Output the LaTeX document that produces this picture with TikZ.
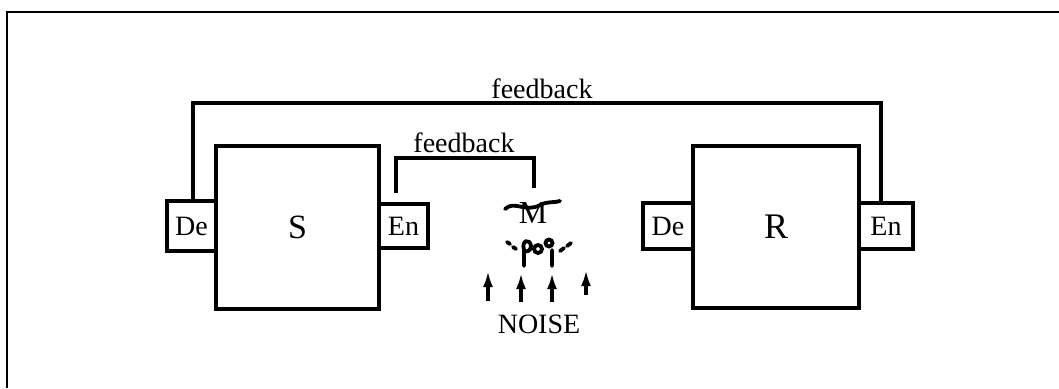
\documentclass[tikz,border=0pt]{standalone}
\usepackage{fontspec}
\setmainfont{Liberation Serif}
\usetikzlibrary{arrows.meta, positioning, calc}

\begin{document}
\begin{tikzpicture}[
  x=0.5pt, y=-0.5pt,
  party/.style={rectangle, draw, line width=1.6pt, fill=white, font=\fontsize{17}{20}\selectfont},
  coder/.style={rectangle, draw, line width=1.6pt, fill=white, inner sep=0pt, font=\fontsize{14}{16}\selectfont},
  link/.style={line width=1.6pt},
  lbl/.style={font=\fontsize{14}{16}\selectfont, inner sep=0pt},
  scrib/.style={line width=1.9pt, line cap=round},
  noisearrow/.style={-{Latex[length=8pt,width=5pt]}, line width=1.7pt}
]
\useasboundingbox (0,0) rectangle (1059,388);
\draw[line width=1.2pt] (7,388) -- (7,12) -- (1059,12);

% sender side
\node[party, minimum width=81.5pt, minimum height=81.5pt] (sbox) at (297.5,227.5) {S};
\node[coder, minimum width=24.5pt, minimum height=25pt] (sde) at (191.5,226) {De};
\node[coder, minimum width=24.5pt, minimum height=22pt] (sen) at (403.5,226) {En};

% receiver side
\node[party, minimum width=83pt, minimum height=81pt, font=\fontsize{18}{20}\selectfont] (rbox) at (776,227) {R};
\node[coder, minimum width=25pt, minimum height=23pt] (rde) at (668,226) {De};
\node[coder, minimum width=27pt, minimum height=23pt] (ren) at (886,226) {En};

% outer feedback loop
\coordinate (fbl) at (193,103);
\coordinate (fbr) at (881,103);
\draw[link] (sde.north -| fbl) -- (fbl) -- (fbr) -- (ren.north -| fbr);
\node[lbl] (fbtop) at (542,89) {feedback};

% inner feedback loop
\coordinate (fbs) at (396,193);
\coordinate (fbm) at (534,188);
\draw[link] (fbs) -- (fbs |- 0,158) -- (fbm |- 0,158) -- (fbm);
\node[lbl] (fbin) at (464,143) {feedback};

% message, disturbed
\node[lbl, font=\fontsize{16}{18}\selectfont] (msg) at (533,213) {M};
\draw[scrib] (505,209) .. controls (514,200) and (526,213) .. (540,205) .. controls (548,201) and (554,203) .. (560,201);
\draw[scrib] (507,242) -- (510,244) (513,247) -- (516,249);
\draw[scrib] (524,266) -- (524,250) .. controls (521,240) and (530,238) .. (531,246) .. controls (531,251) and (526,253) .. (524,250);
\draw[scrib] (538,249) circle (4);
\draw[scrib] (552,266) -- (552,250) (549,243) circle (3.5);
\draw[scrib] (560,251) -- (564,248) (567,246) -- (571,243);

% noise
\coordinate (nb1) at (488,301);
\coordinate (nt1) at (488,271);
\coordinate (nb2) at (521,302);
\coordinate (nt2) at (521,273);
\coordinate (nb3) at (552,302);
\coordinate (nt3) at (552,273);
\coordinate (nb4) at (586,295);
\coordinate (nt4) at (586,270);
\draw[noisearrow] (nb1) -- (nt1);
\draw[noisearrow] (nb2) -- (nt2);
\draw[noisearrow] (nb3) -- (nt3);
\draw[noisearrow] (nb4) -- (nt4);
\node[lbl] (noise) at (539,324) {NOISE};
\end{tikzpicture}
\end{document}
